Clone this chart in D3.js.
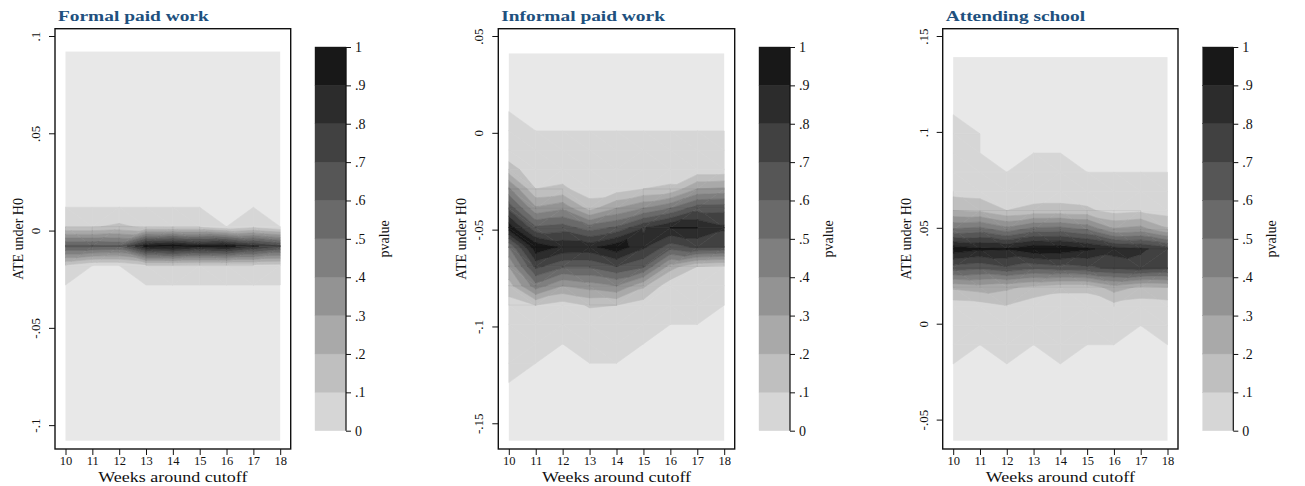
<!DOCTYPE html>
<html>
<head>
<meta charset="utf-8">
<script src="https://cdn.jsdelivr.net/npm/d3@7"></script>
<style>
  body { margin: 0; background: #fff; }
  svg { display: block; }
  text { font-family: "Liberation Serif", "Times New Roman", serif; fill: #111; }
</style>
</head>
<body>
<svg id="chart" width="1305" height="486"></svg>
<script>
// ---- data -------------------------------------------------------------
const weeks = [10, 11, 12, 13, 14, 15, 16, 17, 18];

// hypothesised ATE values (grid rows, top to bottom)
const formalH0 = [0.092, 0.082, 0.072, 0.062, 0.052, 0.042, 0.032, 0.022, 0.012, 0.002, -0.008,
                  -0.018, -0.028, -0.038, -0.048, -0.058, -0.068, -0.078, -0.088, -0.098, -0.108];
const informalH0 = [0.041, 0.031, 0.021, 0.011, 0.001, -0.009, -0.019, -0.029, -0.039, -0.049, -0.059,
                    -0.069, -0.079, -0.089, -0.099, -0.109, -0.119, -0.129, -0.139, -0.149, -0.159];
const schoolH0 = [0.139, 0.129, 0.119, 0.109, 0.099, 0.089, 0.079, 0.069, 0.059, 0.049, 0.039,
                  0.029, 0.019, 0.009, -0.001, -0.011, -0.021, -0.031, -0.041, -0.051, -0.061];

// p-values: one row per H0 value, one column per week
const formalP = [
  [0, 0, 0, 0, 0, 0, 0, 0, 0],
  [0, 0, 0, 0, 0, 0, 0, 0, 0],
  [0, 0, 0, 0, 0, 0, 0, 0, 0],
  [0, 0, 0, 0, 0, 0, 0, 0, 0],
  [0, 0, 0, 0, 0, 0, 0, 0, 0],
  [0, 0, 0, 0, 0, 0, 0, 0, 0],
  [0, 0, 0, 0, 0, 0, 0, 0, 0],
  [0, 0, 0, 0, 0, 0, 0, 0, 0],
  [0, 0, 0, 0, 0, 0, 0, 0, 0],
  [0.09, 0.09, 0.12, 0.08, 0.07, 0.07, 0, 0.06, 0],
  [0.62, 0.62, 0.60, 0.93, 0.98, 0.90, 0.94, 0.82, 0.72],
  [0.08, 0, 0, 0.07, 0.07, 0.06, 0.06, 0.06, 0.05],
  [0, 0, 0, 0, 0, 0, 0, 0, 0],
  [0, 0, 0, 0, 0, 0, 0, 0, 0],
  [0, 0, 0, 0, 0, 0, 0, 0, 0],
  [0, 0, 0, 0, 0, 0, 0, 0, 0],
  [0, 0, 0, 0, 0, 0, 0, 0, 0],
  [0, 0, 0, 0, 0, 0, 0, 0, 0],
  [0, 0, 0, 0, 0, 0, 0, 0, 0],
  [0, 0, 0, 0, 0, 0, 0, 0, 0],
  [0, 0, 0, 0, 0, 0, 0, 0, 0]
];
const informalP = [
  [0, 0, 0, 0, 0, 0, 0, 0, 0],
  [0, 0, 0, 0, 0, 0, 0, 0, 0],
  [0, 0, 0, 0, 0, 0, 0, 0, 0],
  [0, 0, 0, 0, 0, 0, 0, 0, 0],
  [0.01, 0, 0, 0, 0, 0, 0, 0, 0],
  [0.04, 0.02, 0.02, 0.01, 0.01, 0.01, 0.01, 0.01, 0.01],
  [0.14, 0.04, 0.04, 0.04, 0.03, 0.04, 0.04, 0.03, 0.03],
  [0.42, 0.10, 0.12, 0.04, 0.05, 0.10, 0.12, 0.30, 0.32],
  [0.68, 0.32, 0.38, 0.16, 0.30, 0.40, 0.50, 0.66, 0.67],
  [0.97, 0.62, 0.65, 0.55, 0.62, 0.79, 0.90, 0.90, 0.82],
  [0.50, 0.98, 0.88, 0.87, 0.97, 0.82, 0.65, 0.72, 0.70],
  [0.30, 0.73, 0.62, 0.62, 0.70, 0.62, 0.25, 0.10, 0.07],
  [0.15, 0.46, 0.30, 0.35, 0.40, 0.22, 0.03, 0.04, 0.02],
  [0.06, 0.10, 0.05, 0.11, 0.10, 0.05, 0.02, 0.02, 0],
  [0.04, 0.05, 0.02, 0.04, 0.04, 0.02, 0, 0, 0],
  [0.03, 0.02, 0, 0.02, 0.02, 0, 0, 0, 0],
  [0.01, 0, 0, 0, 0, 0, 0, 0, 0],
  [0, 0, 0, 0, 0, 0, 0, 0, 0],
  [0, 0, 0, 0, 0, 0, 0, 0, 0],
  [0, 0, 0, 0, 0, 0, 0, 0, 0],
  [0, 0, 0, 0, 0, 0, 0, 0, 0]
];
const schoolP = [
  [0, 0, 0, 0, 0, 0, 0, 0, 0],
  [0, 0, 0, 0, 0, 0, 0, 0, 0],
  [0, 0, 0, 0, 0, 0, 0, 0, 0],
  [0, 0, 0, 0, 0, 0, 0, 0, 0],
  [0.01, 0, 0, 0, 0, 0, 0, 0, 0],
  [0.02, 0, 0, 0, 0, 0, 0, 0, 0],
  [0.03, 0.02, 0, 0.02, 0.02, 0, 0, 0, 0],
  [0.06, 0.05, 0.04, 0.04, 0.05, 0.03, 0.03, 0.03, 0.02],
  [0.20, 0.18, 0.10, 0.13, 0.13, 0.12, 0.06, 0.08, 0.05],
  [0.52, 0.55, 0.45, 0.55, 0.56, 0.50, 0.32, 0.35, 0.22],
  [0.97, 0.92, 0.91, 0.98, 0.97, 0.92, 0.85, 0.82, 0.75],
  [0.65, 0.62, 0.68, 0.62, 0.65, 0.68, 0.72, 0.75, 0.72],
  [0.22, 0.25, 0.22, 0.17, 0.13, 0.13, 0.25, 0.18, 0.20],
  [0.04, 0.05, 0.09, 0.04, 0.03, 0.03, 0.06, 0.04, 0.05],
  [0.03, 0.02, 0.02, 0.03, 0.03, 0.02, 0.02, 0, 0.02],
  [0.02, 0, 0.01, 0, 0.01, 0, 0, 0, 0],
  [0, 0, 0, 0, 0, 0, 0, 0, 0],
  [0, 0, 0, 0, 0, 0, 0, 0, 0],
  [0, 0, 0, 0, 0, 0, 0, 0, 0],
  [0, 0, 0, 0, 0, 0, 0, 0, 0],
  [0, 0, 0, 0, 0, 0, 0, 0, 0]
];

// contour levels and their labels
const pLevels = [0, 0.1, 0.2, 0.3, 0.4, 0.5, 0.6, 0.7, 0.8, 0.9, 1];
const pLevelLabels = ["0", ".1", ".2", ".3", ".4", ".5", ".6", ".7", ".8", ".9", "1"];

// y-axis ticks per panel
const formalTicks = [-0.1, -0.05, 0, 0.05, 0.1];
const formalTickLabels = ["-.1", "-.05", "0", ".05", ".1"];
const informalTicks = [-0.15, -0.1, -0.05, 0, 0.05];
const informalTickLabels = ["-.15", "-.1", "-.05", "0", ".05"];
const schoolTicks = [-0.05, 0, 0.05, 0.1, 0.15];
const schoolTickLabels = ["-.05", "0", ".05", ".1", ".15"];

const titles = ["Formal paid work", "Informal paid work", "Attending school"];

// ---- styling ------------------------------------------------------------
const bandColors = ["#d6d6d6", "#bfbfbf", "#a9a9a9", "#939393", "#7f7f7f",
                    "#6a6a6a", "#565656", "#414141", "#2c2c2c", "#181818"];
const outsideColor = "#e8e8e8";
const titleColor = "#20507e";

const layout = [
  { frameX0: 55,    frameX1: 290.7, barX0: 315,    barX1: 346,    pvalueX: 389 },
  { frameX0: 498.3, frameX1: 734.7, barX0: 759,    barX1: 790,    pvalueX: 833 },
  { frameX0: 942.7, frameX1: 1178,  barX0: 1202.7, barX1: 1233.3, pvalueX: 1276 }
];
const frameY0 = 28.7, frameY1 = 449;
const barY0 = 47, barY1 = 430.7;

const panels = [
  { title: titles[0], h0: formalH0, p: formalP, ticks: formalTicks, tickLabels: formalTickLabels, ...layout[0] },
  { title: titles[1], h0: informalH0, p: informalP, ticks: informalTicks, tickLabels: informalTickLabels, ...layout[1] },
  { title: titles[2], h0: schoolH0, p: schoolP, ticks: schoolTicks, tickLabels: schoolTickLabels, ...layout[2] }
];

const svg = d3.select("#chart");

// keep the part of a polygon where the interpolated value is >= (or <=) level
function clip(poly, level, above) {
  const out = [];
  for (let i = 0; i < poly.length; i++) {
    const a = poly[i], b = poly[(i + 1) % poly.length];
    const ina = above ? a.v >= level : a.v <= level;
    const inb = above ? b.v >= level : b.v <= level;
    if (ina) out.push(a);
    if (ina !== inb) {
      const t = (level - a.v) / (b.v - a.v);
      out.push({ x: a.x + t * (b.x - a.x), y: a.y + t * (b.y - a.y), v: level });
    }
  }
  return out;
}

// stretch a text horizontally by a factor, keeping its glyph height
function stretch(sel, factor) {
  const len = sel.node().getComputedTextLength();
  sel.attr("textLength", len * factor).attr("lengthAdjust", "spacingAndGlyphs");
}

panels.forEach(panel => {
  const g = svg.append("g");

  const x = d3.scaleLinear()
    .domain(d3.extent(weeks))
    .range([panel.frameX0 + 10.5, panel.frameX1 - 10.5]);
  const yLo = Math.min(d3.min(panel.h0), d3.min(panel.ticks));
  const yHi = Math.max(d3.max(panel.h0), d3.max(panel.ticks));
  const y = d3.scaleLinear().domain([yLo, yHi]).range([frameY1 - 8.3, frameY0 + 7.3]);

  // background of the evaluated grid (p-value of zero)
  g.append("rect")
    .attr("x", x(weeks[0])).attr("y", y(d3.max(panel.h0)))
    .attr("width", x(weeks[weeks.length - 1]) - x(weeks[0]))
    .attr("height", y(d3.min(panel.h0)) - y(d3.max(panel.h0)))
    .attr("fill", outsideColor);

  // triangulate each grid cell and fill the p-value bands
  const pieces = [];
  for (let r = 0; r < panel.h0.length - 1; r++) {
    for (let c = 0; c < weeks.length - 1; c++) {
      const P = (rr, cc) => ({ x: x(weeks[cc]), y: y(panel.h0[rr]), v: panel.p[rr][cc] });
      const TL = P(r, c), TR = P(r, c + 1), BL = P(r + 1, c), BR = P(r + 1, c + 1);
      const tris = Math.abs(TL.v - BR.v) <= Math.abs(TR.v - BL.v)
        ? [[TL, TR, BR], [TL, BR, BL]]
        : [[TL, TR, BL], [TR, BR, BL]];
      tris.forEach(tri => {
        if (d3.max(tri, d => d.v) <= 0) return;
        for (let b = 0; b < bandColors.length; b++) {
          const lo = b === 0 ? 1e-9 : pLevels[b];
          const hi = pLevels[b + 1];
          let poly = clip(tri, lo, true);
          if (poly.length < 3) continue;
          if (b < bandColors.length - 1) poly = clip(poly, hi, false);
          if (poly.length < 3) continue;
          pieces.push({ band: b, poly });
        }
      });
    }
  }
  g.append("g").selectAll("path")
    .data(pieces.sort((a, b) => a.band - b.band))
    .join("path")
    .attr("d", d => "M" + d.poly.map(q => q.x + "," + q.y).join("L") + "Z")
    .attr("fill", d => bandColors[d.band])
    .attr("stroke", d => bandColors[d.band])
    .attr("stroke-width", 0.6)
    .attr("stroke-linejoin", "round");

  // faint grid seams along the evaluated cells
  const seams = [];
  for (let r = 0; r < panel.h0.length; r++) {
    for (let c = 0; c < weeks.length; c++) {
      if (c < weeks.length - 1 && Math.min(panel.p[r][c], panel.p[r][c + 1]) > 0.05)
        seams.push([weeks[c], panel.h0[r], weeks[c + 1], panel.h0[r]]);
      if (r < panel.h0.length - 1 && Math.min(panel.p[r][c], panel.p[r + 1][c]) > 0.05)
        seams.push([weeks[c], panel.h0[r], weeks[c], panel.h0[r + 1]]);
    }
  }
  g.append("g").selectAll("line")
    .data(seams)
    .join("line")
    .attr("x1", d => x(d[0])).attr("y1", d => y(d[1]))
    .attr("x2", d => x(d[2])).attr("y2", d => y(d[3]))
    .attr("stroke", "#000").attr("stroke-opacity", 0.1).attr("stroke-width", 0.6);

  // plot frame
  g.append("rect")
    .attr("x", panel.frameX0).attr("y", frameY0)
    .attr("width", panel.frameX1 - panel.frameX0).attr("height", frameY1 - frameY0)
    .attr("fill", "none").attr("stroke", "#111").attr("stroke-width", 1.4);

  // y axis (rotated tick labels)
  const yAxis = g.append("g")
    .attr("transform", `translate(${panel.frameX0},0)`)
    .call(d3.axisLeft(y).tickValues(panel.ticks)
      .tickFormat((d, i) => panel.tickLabels[i]).tickSize(6).tickPadding(0));
  yAxis.select(".domain").remove();
  yAxis.selectAll(".tick line").attr("stroke", "#111").attr("stroke-width", 1);
  yAxis.selectAll(".tick text")
    .attr("x", 0).attr("y", -15).attr("dy", 0)
    .attr("transform", "rotate(-90)")
    .attr("text-anchor", "middle")
    .style("font-size", "13px").style("font-family", '"Liberation Serif", serif');

  // x axis
  const xAxis = g.append("g")
    .attr("transform", `translate(0,${frameY1})`)
    .call(d3.axisBottom(x).tickValues(weeks).tickFormat(d3.format("d")).tickSize(6).tickPadding(1));
  xAxis.select(".domain").remove();
  xAxis.selectAll(".tick line").attr("stroke", "#111").attr("stroke-width", 1);
  xAxis.selectAll(".tick text")
    .style("font-size", "12.5px").style("font-family", '"Liberation Serif", serif');

  // axis titles
  g.append("text")
    .attr("transform", `translate(${panel.frameX0 - 32},${(frameY0 + frameY1) / 2}) rotate(-90)`)
    .attr("text-anchor", "middle")
    .style("font-size", "14px")
    .text("ATE under H0");
  g.append("text")
    .attr("x", (panel.frameX0 + panel.frameX1) / 2).attr("y", 482)
    .attr("text-anchor", "middle")
    .style("font-size", "15px")
    .text("Weeks around cutoff")
    .call(stretch, 1.2);

  // panel title
  g.append("text")
    .attr("x", panel.frameX0 + 3).attr("y", 21)
    .style("font-size", "15.5px").style("font-weight", "bold")
    .style("fill", titleColor)
    .text(panel.title)
    .call(stretch, 1.25);

  // colour bar
  const cb = d3.scaleLinear().domain([0, 1]).range([barY1, barY0]);
  g.append("g").selectAll("rect")
    .data(bandColors)
    .join("rect")
    .attr("x", panel.barX0)
    .attr("y", (d, i) => cb(pLevels[i + 1]))
    .attr("width", panel.barX1 - panel.barX0)
    .attr("height", (d, i) => cb(pLevels[i]) - cb(pLevels[i + 1]))
    .attr("fill", d => d)
    .attr("stroke", d => d).attr("stroke-width", 0.4);
  const cAxis = g.append("g")
    .attr("transform", `translate(${panel.barX1},0)`)
    .call(d3.axisRight(cb).tickValues(pLevels)
      .tickFormat((d, i) => pLevelLabels[i]).tickSize(5).tickPadding(4));
  cAxis.select(".domain").attr("stroke", "#111").attr("stroke-width", 1.2).attr("d", `M0,${barY1}V${barY0}`);
  cAxis.selectAll(".tick line").attr("stroke", "#111").attr("stroke-width", 1);
  cAxis.selectAll(".tick text")
    .style("font-size", "14px").style("font-family", '"Liberation Serif", serif');

  g.append("text")
    .attr("transform", `translate(${panel.pvalueX},${(barY0 + barY1) / 2}) rotate(-90)`)
    .attr("text-anchor", "middle")
    .style("font-size", "14px")
    .text("pvalue");
});
</script>
</body>
</html>
